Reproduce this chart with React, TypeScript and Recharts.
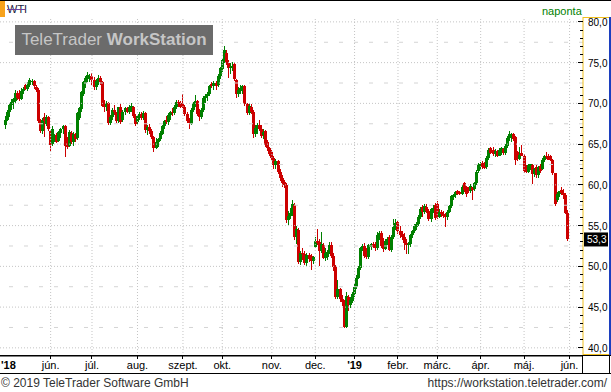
import React from "react";
import { ComposedChart, Bar, XAxis, YAxis, ReferenceLine } from "recharts";

// daily WTI candles, [open, high, low, close]
const may18 = [
  [67.3, 68.4, 66.8, 68.0], [68.0, 69.2, 67.8, 68.9], [68.9, 70.0, 68.3, 69.8], [69.8, 70.5, 69.2, 70.2],
  [70.2, 70.6, 69.3, 70.5], [70.3, 71.6, 70.1, 71.3], [71.3, 71.5, 70.4, 70.6], [71.3, 71.6, 70.3, 70.5],
  [70.5, 71.9, 70.4, 71.5], [71.5, 72.0, 71.1, 71.8], [72.2, 72.4, 71.6, 71.8], [71.8, 72.6, 71.5, 72.3],
  [72.3, 73.1, 72.0, 72.9], [72.6, 73.0, 72.2, 72.8], [72.8, 72.9, 71.8, 72.1], [72.0, 72.2, 71.4, 71.6],
  [71.7, 71.9, 67.6, 67.8], [67.9, 68.1, 66.4, 66.6], [66.6, 68.2, 66.2, 67.9], [68.3, 68.8, 65.9, 67.8],
  [67.5, 68.6, 67.2, 68.3], [68.3, 68.5, 66.6, 66.9],
];
const jun18 = [
  [66.6, 66.7, 64.2, 64.9], [65.0, 67.2, 64.8, 66.9], [65.6, 66.3, 65.2, 66.1], [66.1, 66.4, 65.1, 65.3],
  [65.4, 66.6, 65.2, 66.5], [66.4, 67.0, 65.8, 66.8], [66.8, 67.4, 66.3, 67.2], [67.2, 67.3, 63.4, 64.8],
  [65.6, 65.9, 64.4, 64.7], [64.8, 66.7, 64.6, 66.5], [66.4, 66.6, 65.0, 65.2], [65.2, 66.5, 64.8, 66.3],
  [66.2, 66.4, 65.3, 65.6], [65.7, 68.9, 65.5, 68.8], [68.2, 69.5, 67.9, 69.4], [69.3, 71.5, 69.0, 71.4],
  [71.2, 72.8, 70.9, 72.6], [72.5, 73.3, 71.9, 73.1], [73.0, 73.9, 72.6, 73.5], [73.3, 73.6, 72.6, 73.4],
];
const jul18 = [
  [73.4, 73.7, 72.3, 72.9], [72.9, 73.2, 71.7, 72.0], [72.0, 73.0, 71.6, 72.7], [72.8, 73.5, 72.2, 73.1],
  [73.1, 73.3, 72.2, 72.6], [72.6, 72.8, 69.5, 69.7], [69.7, 70.4, 69.0, 69.5], [69.5, 70.3, 69.1, 70.1],
  [70.1, 70.2, 67.3, 67.6], [67.6, 68.6, 67.3, 68.3], [68.3, 69.4, 68.0, 69.2], [69.2, 69.8, 68.6, 68.9],
  [68.9, 69.0, 67.6, 67.8], [67.8, 69.6, 67.6, 69.5], [69.6, 69.9, 67.5, 67.7], [67.9, 69.2, 67.7, 69.0],
  [68.9, 69.5, 68.6, 69.4], [69.4, 69.6, 68.8, 68.9], [68.9, 69.8, 68.7, 69.5], [69.2, 70.0, 69.0, 69.7],
  [69.5, 69.7, 68.2, 68.5], [68.5, 68.7, 67.2, 67.5],
];
const aug18 = [
  [67.7, 68.6, 67.4, 68.4], [68.4, 69.0, 67.9, 68.7], [68.7, 69.0, 67.9, 68.2], [68.2, 69.1, 67.9, 68.8],
  [68.8, 69.0, 66.4, 66.7], [66.7, 67.4, 66.1, 67.1], [67.1, 67.5, 66.3, 66.6], [66.6, 66.8, 65.6, 65.9],
  [65.9, 66.0, 64.0, 64.5], [64.5, 65.7, 64.4, 65.3], [65.2, 65.8, 64.7, 65.6], [65.6, 66.6, 65.4, 66.4],
  [66.3, 67.4, 66.1, 67.2], [67.2, 68.0, 66.9, 67.8], [67.9, 68.5, 67.5, 67.7], [67.7, 68.8, 67.4, 68.6],
  [68.6, 69.1, 68.0, 68.9], [68.9, 69.4, 68.5, 68.8], [68.8, 69.8, 68.6, 69.6], [69.6, 70.4, 69.3, 70.2],
  [70.2, 70.4, 69.6, 70.0], [70.0, 70.3, 69.4, 69.6],
];
const sep18 = [
  [69.9, 71.1, 69.4, 69.6], [69.6, 69.8, 68.5, 68.7], [68.7, 68.9, 67.6, 67.8], [67.8, 68.2, 66.8, 67.6],
  [67.5, 69.4, 67.3, 69.2], [69.2, 70.2, 68.9, 70.0], [70.0, 71.0, 69.6, 70.3], [70.3, 70.4, 68.5, 68.7],
  [69.0, 69.3, 67.8, 68.3], [68.3, 69.4, 68.1, 69.2], [69.2, 70.9, 69.0, 70.6], [70.6, 71.2, 70.0, 70.9],
  [70.9, 71.4, 70.3, 71.2], [71.2, 72.3, 70.9, 72.1], [72.4, 72.6, 71.9, 72.1], [72.1, 72.7, 71.6, 72.5],
  [72.5, 72.8, 71.7, 72.1], [72.2, 73.6, 72.0, 73.4], [73.4, 74.5, 73.0, 74.3],
];
const oct18 = [
  [74.2, 75.5, 73.9, 75.3], [75.2, 77.0, 75.0, 76.6], [76.2, 76.5, 74.7, 75.0], [75.0, 75.3, 73.1, 74.4],
  [74.4, 74.9, 73.6, 74.5], [74.5, 75.1, 74.0, 74.6], [74.8, 75.1, 72.7, 73.0], [72.9, 73.0, 70.6, 71.1],
  [71.1, 72.0, 70.8, 71.6], [71.6, 72.2, 71.2, 71.9], [71.5, 72.3, 71.2, 72.1], [72.1, 72.3, 69.7, 69.9],
  [69.9, 70.0, 68.6, 68.8], [68.8, 70.0, 68.6, 69.7], [69.6, 69.9, 68.7, 69.0], [69.0, 69.2, 65.7, 66.2],
  [66.2, 67.3, 65.9, 67.0], [66.9, 67.6, 66.3, 67.4], [67.4, 67.9, 66.6, 66.8], [66.9, 67.3, 65.7, 66.0],
  [66.1, 66.8, 65.6, 66.5], [66.6, 66.7, 64.6, 64.9], [65.3, 65.5, 64.2, 64.5], [64.5, 64.7, 63.5, 63.8],
];
const nov18 = [
  [64.0, 64.3, 63.0, 63.3], [63.3, 63.6, 62.0, 62.4], [62.4, 63.2, 62.0, 62.9], [62.9, 63.0, 61.3, 61.6],
  [61.6, 61.9, 60.5, 60.8], [60.8, 61.2, 59.8, 60.2], [60.3, 60.6, 59.6, 60.0], [60.0, 60.2, 55.3, 55.7],
  [55.7, 56.8, 55.1, 56.2], [56.2, 57.2, 55.8, 56.5], [56.5, 58.1, 56.2, 57.6], [57.5, 57.8, 53.2, 53.6],
  [53.6, 55.0, 52.8, 54.6], [54.5, 54.7, 50.3, 50.5], [50.5, 51.9, 50.2, 51.6], [51.6, 52.2, 50.8, 51.5],
  [51.5, 51.9, 50.2, 50.4], [50.4, 51.6, 50.1, 51.4], [51.4, 51.7, 50.5, 50.9], [51.3, 51.5, 49.5, 50.6],
  [50.6, 51.3, 50.3, 51.1],
];
const dec18 = [
  [52.4, 53.6, 52.2, 53.1], [53.1, 54.6, 52.6, 52.9], [53.0, 53.3, 50.1, 51.9], [51.9, 54.2, 51.6, 52.8],
  [52.6, 52.9, 50.9, 51.0], [51.0, 52.2, 50.6, 51.7], [51.2, 52.0, 50.8, 51.8], [51.8, 53.0, 51.5, 52.6],
  [52.6, 53.0, 51.0, 51.3], [51.3, 51.6, 49.4, 49.9], [49.9, 50.2, 46.0, 46.3], [46.3, 48.3, 46.0, 47.2],
  [47.2, 47.4, 45.6, 46.0], [46.0, 46.5, 45.1, 45.6], [45.6, 45.9, 42.4, 42.6], [42.6, 46.8, 42.4, 46.4],
  [46.3, 46.5, 44.5, 45.3], [45.3, 46.3, 44.9, 45.9], [45.7, 46.8, 45.5, 46.6],
];
const jan19 = [
  [46.6, 47.8, 46.3, 47.5], [47.5, 48.9, 47.2, 48.6], [48.6, 50.1, 48.4, 49.8], [49.8, 52.4, 49.6, 52.2],
  [52.2, 52.7, 51.9, 52.5], [52.5, 52.9, 51.0, 51.3], [51.8, 52.3, 50.9, 51.1], [51.1, 52.8, 50.9, 52.6],
  [52.4, 52.9, 52.0, 52.7], [52.7, 53.0, 52.2, 52.4], [52.7, 53.0, 51.9, 52.2], [52.2, 54.2, 52.0, 53.9],
  [53.8, 54.4, 53.2, 54.1], [54.1, 54.3, 52.3, 52.5], [52.6, 53.5, 51.8, 52.1], [52.1, 53.3, 52.0, 53.1],
  [53.1, 53.6, 52.6, 53.4], [53.6, 53.9, 51.9, 52.0], [52.0, 53.9, 51.8, 53.6], [53.6, 55.8, 53.3, 54.8],
  [54.8, 55.8, 54.5, 55.3],
];
const feb19 = [
  [55.4, 55.6, 54.0, 54.3], [54.3, 55.0, 53.5, 53.8], [54.0, 54.4, 53.2, 53.6], [53.6, 54.1, 52.0, 52.9],
  [52.9, 53.3, 51.5, 52.6], [52.6, 53.0, 51.5, 52.8], [52.8, 54.0, 52.4, 53.8], [53.8, 54.5, 53.5, 54.3],
  [54.3, 55.2, 54.1, 55.0], [54.8, 55.4, 54.5, 55.2], [55.2, 56.3, 54.9, 56.0], [56.0, 57.3, 55.8, 57.1],
  [57.3, 57.5, 56.1, 56.7], [56.7, 57.7, 56.4, 57.4], [57.3, 57.6, 56.5, 56.8], [56.8, 57.1, 55.6, 55.8],
  [55.8, 57.2, 55.5, 57.0], [57.0, 57.5, 56.6, 57.2], [57.5, 57.8, 55.7, 55.9],
];
const mar19 = [
  [57.6, 58.0, 55.8, 56.0], [56.0, 57.0, 55.9, 56.7], [56.7, 56.9, 56.1, 56.4], [56.4, 56.8, 55.9, 56.2],
  [56.2, 56.6, 54.8, 56.0], [56.0, 56.9, 55.7, 56.7], [56.7, 57.5, 56.5, 57.4], [57.4, 58.8, 57.2, 58.6],
  [58.5, 58.9, 58.1, 58.7], [58.7, 59.3, 58.4, 59.1], [59.2, 59.4, 58.8, 58.9], [59.1, 59.3, 58.7, 58.9],
  [58.9, 60.0, 58.8, 59.8], [60.2, 60.4, 59.1, 59.4], [59.6, 59.9, 58.5, 58.9], [59.7, 59.8, 59.0, 59.2],
  [59.2, 60.1, 59.0, 59.9], [59.7, 59.8, 58.2, 59.4], [59.5, 60.4, 59.3, 60.2], [60.2, 61.8, 60.0, 61.6],
  [61.7, 62.7, 61.5, 62.5],
];
const apr19 = [
  [62.3, 62.8, 61.8, 62.6], [62.7, 62.9, 62.0, 62.2], [62.5, 62.8, 61.9, 62.1], [62.2, 63.5, 62.0, 63.3],
  [63.3, 64.5, 63.1, 64.3], [64.5, 64.7, 63.8, 63.9], [64.3, 64.6, 63.6, 63.8], [63.8, 64.4, 63.4, 64.2],
  [64.1, 64.3, 63.4, 63.6], [63.6, 64.5, 63.5, 64.3], [64.2, 64.7, 63.7, 64.5], [64.4, 64.5, 63.7, 63.9],
  [63.9, 65.0, 63.7, 64.8], [64.8, 66.0, 64.5, 65.8], [65.8, 66.6, 65.4, 66.3], [66.0, 66.4, 65.3, 66.1],
  [66.3, 66.4, 65.4, 65.6], [65.9, 66.0, 62.4, 63.1], [64.0, 64.2, 62.9, 63.2], [63.2, 64.7, 63.0, 63.7],
  [63.9, 64.9, 63.5, 63.6],
];
const may19 = [
  [63.6, 63.8, 61.5, 61.7], [62.2, 62.4, 61.4, 61.6], [61.6, 62.5, 61.4, 62.4], [62.2, 62.6, 61.8, 62.5],
  [62.4, 62.6, 60.1, 61.3], [61.3, 62.1, 61.0, 61.9], [62.2, 62.4, 60.9, 61.2], [61.2, 62.3, 60.9, 62.2],
  [62.3, 62.5, 61.5, 61.7], [61.9, 63.3, 61.8, 63.0], [63.0, 63.7, 62.8, 63.5], [63.6, 64.0, 63.2, 63.4],
  [63.6, 63.8, 63.0, 63.1], [63.5, 63.7, 62.9, 63.1], [63.0, 63.2, 61.2, 61.4], [61.4, 61.5, 57.4, 57.6],
  [58.1, 59.1, 57.9, 58.9], [58.9, 59.3, 58.5, 59.2], [59.4, 59.7, 58.8, 59.0], [59.0, 59.5, 58.3, 58.8],
  [58.8, 59.0, 56.4, 56.6], [56.6, 56.9, 53.1, 53.3],
];

// x axis: one slot per trading day, month lines on these slots
const tickSlots = [0, 24, 44, 66, 88, 107, 131, 152, 171, 192, 211, 232, 253, 275];
const tickLabels = ["'18", "jún.", "júl.", "aug.", "szept.", "okt.", "nov.", "dec.", "'19", "febr.", "márc.", "ápr.", "máj.", "jún."];
const yearLabels = ["'18", "'19"];
const majorLevels = [40, 45, 50, 55, 60, 65, 70, 75, 80];
const halfLevels = [42.5, 47.5, 52.5, 57.5, 62.5, 67.5, 72.5, 77.5];
const lastClose = 53.3;

const LEAD = 2;
const SLOTS = 282;
const GREEN = "#008000";
const RED = "#cc0000";
const FONT = "'Liberation Sans', Arial, sans-serif";

const candles = [
  ...may18, ...jun18, ...jul18, ...aug18, ...sep18, ...oct18, ...nov18,
  ...dec18, ...jan19, ...feb19, ...mar19, ...apr19, ...may19,
];

type Row = { slot: number; open?: number; high?: number; low?: number; close?: number };

const data: Row[] = Array.from({ length: SLOTS }, (_, i) => {
  const c = candles[i - LEAD];
  if (!c) return { slot: i };
  return { slot: i, open: c[0], high: c[1], low: c[2], close: c[3] };
});

const minorTicks = Array.from({ length: 41 }, (_, i) => 40 + i);
const edgeTicks = Array.from({ length: 61 }, (_, i) => i);

const Candle = (props: any) => {
  const { x, y, width, height, payload } = props;
  if (!payload || payload.open == null || !isFinite(y)) return <g />;
  const { open, high, low, close } = payload;
  const top = Math.min(y, y + height);
  const h = Math.abs(height);
  const span = high - low;
  const pos = (v: number) => (span === 0 ? top : top + ((high - v) / span) * h);
  const color = close >= open ? GREEN : RED;
  const bx = Math.round(x + width / 2 - 1.5);
  const bTop = pos(Math.max(open, close));
  const bBot = pos(Math.min(open, close));
  return (
    <g shapeRendering="crispEdges">
      <rect x={bx + 1} y={top} width={1} height={Math.max(1, h)} fill={color} />
      <rect x={bx} y={bTop} width={3} height={Math.max(1, bBot - bTop)} fill={color} />
    </g>
  );
};

const PriceTick = (props: any) => {
  const { x, y, payload } = props;
  const v = payload.value as number;
  const major = v % 5 === 0;
  return (
    <g>
      <line x1={x - (major ? 5 : 3)} x2={x} y1={y} y2={y} stroke="#000" shapeRendering="crispEdges" />
      {major && (
        <text x={x + 5} y={y + 4} fontSize={10} fontFamily={FONT} fill="#000">
          {v.toFixed(1).replace(".", ",")}
        </text>
      )}
    </g>
  );
};

const EdgeTick = (props: any) => (
  <line x1={0} x2={3} y1={props.y} y2={props.y} stroke="#000" shapeRendering="crispEdges" />
);

const MonthTick = (props: any) => {
  const { x, y, payload } = props;
  const label = tickLabels[tickSlots.indexOf(payload.value)];
  const first = payload.value === tickSlots[0];
  const bold = yearLabels.includes(label);
  return (
    <g>
      {!first && <line x1={x} x2={x} y1={y} y2={y + 3} stroke="#000" shapeRendering="crispEdges" />}
      <text
        x={first ? 1 : x}
        y={y + 13}
        textAnchor={first ? "start" : "middle"}
        fontSize={11}
        fontWeight={bold ? "bold" : "normal"}
        fontFamily={FONT}
        fill="#000"
      >
        {label}
      </text>
    </g>
  );
};

const LastLabel = (props: any) => {
  const { viewBox } = props;
  const x = viewBox.x + viewBox.width + 1;
  const y = viewBox.y;
  return (
    <g>
      <rect x={x} y={y - 7} width={24} height={14} fill="#000" />
      <text x={x + 3} y={y + 4} fontSize={10} fontFamily={FONT} fill="#fff">
        {lastClose.toFixed(1).replace(".", ",")}
      </text>
    </g>
  );
};

const abs = (style: React.CSSProperties): React.CSSProperties => ({ position: "absolute", ...style });

export default function App() {
  return (
    <div style={{ position: "relative", width: 611, height: 392, background: "#fff", overflow: "hidden", fontFamily: FONT }}>
      <style>{"body{margin:0}"}</style>
      <div style={abs({ left: 0, top: 0 })}>
        <ComposedChart
          width={611}
          height={374}
          data={data}
          margin={{ top: 17, right: 0, bottom: 0, left: 0 }}
          barCategoryGap={0}
          barGap={0}
        >
          <XAxis
            dataKey="slot"
            ticks={tickSlots}
            interval={0}
            height={18}
            tickSize={0}
            tickMargin={0}
            axisLine={{ stroke: "#000" }}
            tickLine={false}
            tick={<MonthTick />}
          />
          <YAxis
            yAxisId="p"
            orientation="right"
            width={28}
            domain={[39, 80.6]}
            ticks={minorTicks}
            interval={0}
            tickSize={0}
            tickMargin={0}
            tickLine={false}
            axisLine={{ stroke: "#f0c020" }}
            tick={<PriceTick />}
          />
          <YAxis
            yAxisId="l"
            orientation="left"
            width={0}
            domain={[-0.72, 60.67]}
            ticks={edgeTicks}
            interval={0}
            tickLine={false}
            axisLine={false}
            tick={<EdgeTick />}
          />
          {halfLevels.map((v) => (
            <ReferenceLine key={"h" + v} yAxisId="p" y={v} stroke="#d4d4d4" strokeDasharray="4 11" />
          ))}
          {majorLevels.map((v) => (
            <ReferenceLine key={"m" + v} yAxisId="p" y={v} stroke="#c4c4c4" strokeDasharray="1 2" />
          ))}
          {tickSlots.slice(1).map((s) => (
            <ReferenceLine key={"v" + s} yAxisId="p" x={s} stroke="#c4c4c4" strokeDasharray="1 2" />
          ))}
          <Bar
            yAxisId="p"
            dataKey={(d: Row) => (d.high != null ? [d.low, d.high] : null)}
            shape={<Candle />}
            isAnimationActive={false}
          />
          <ReferenceLine yAxisId="p" y={lastClose} stroke="none" label={<LastLabel />} />
        </ComposedChart>
      </div>

      {/* header */}
      <div style={abs({ left: 0, top: 0, width: 611, height: 1, background: "#000" })} />
      <div style={abs({ left: 0, top: 1, width: 5, height: 16, background: "#f7a21b" })} />
      <div style={abs({ left: 7, top: 3, fontSize: 11, lineHeight: "12px", color: "#1a1a40" })}>WTI</div>
      <div style={abs({ left: 7, top: 9, width: 18, height: 1, background: "#7040a0" })} />
      <div style={abs({ left: 542, top: 5, fontSize: 11, lineHeight: "12px", color: GREEN })}>naponta</div>

      {/* watermark */}
      <div
        style={abs({
          left: 15, top: 25, width: 198, height: 30, background: "#6b6b6b", color: "#c6c6c6",
          fontSize: 17, lineHeight: "30px", textAlign: "center", whiteSpace: "nowrap",
        })}
      >
        TeleTrader <b>WorkStation</b>
      </div>

      {/* price axis frame */}
      <div style={abs({ left: 583, top: 17, width: 28, height: 1, background: "#f0c020" })} />
      <div style={abs({ left: 583, top: 354, width: 28, height: 1, background: "#f0c020" })} />
      <div style={abs({ left: 609, top: 17, width: 2, height: 338, background: "#1c3fbf" })} />

      {/* time axis frame */}
      <div style={abs({ left: 0, top: 355, width: 611, height: 1, background: "#000" })} />
      <div style={abs({ left: 582, top: 355, width: 1, height: 18, background: "#000" })} />
      <div style={abs({ left: 609, top: 355, width: 1, height: 18, background: "#000" })} />
      <div style={abs({ left: 0, top: 373, width: 611, height: 1, background: "#000" })} />

      {/* footer */}
      <div style={abs({ left: 1, top: 376, fontSize: 12, lineHeight: "14px", color: "#333" })}>
        © 2019 TeleTrader Software GmbH
      </div>
      <div style={abs({ right: 4, top: 376, fontSize: 12, lineHeight: "14px", color: "#333" })}>
        https://workstation.teletrader.com/
      </div>
    </div>
  );
}
